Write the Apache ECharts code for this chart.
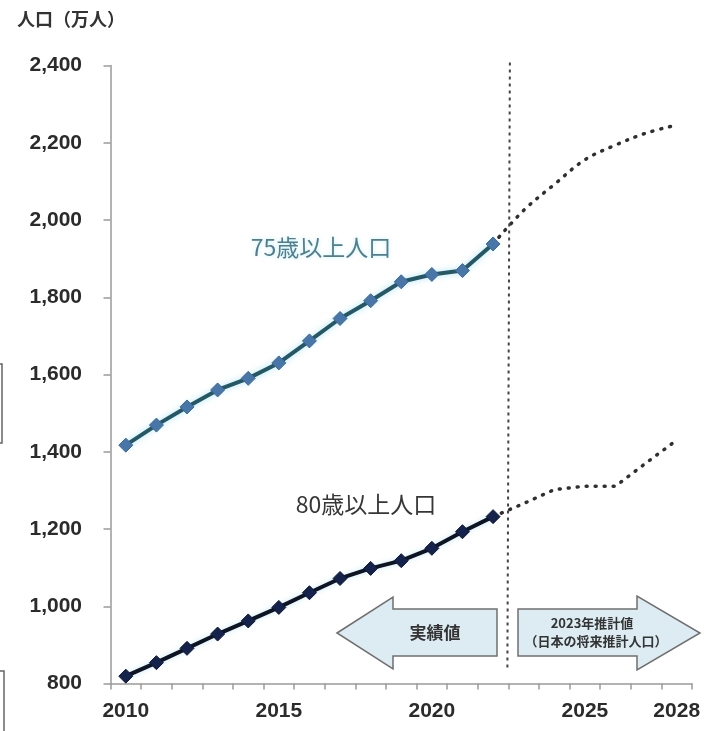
<!DOCTYPE html>
<html>
<head>
<meta charset="utf-8">
<script src="https://cdn.jsdelivr.net/npm/echarts@6/dist/echarts.min.js"></script>
<style>
  html, body { margin: 0; padding: 0; background: #fff; }
  #chart { width: 708px; height: 731px; }
</style>
</head>
<body>
<div id="chart"></div>
<script>
// Years on the horizontal axis (actuals 2010-2022, projection 2023-2028)
const years = ['2010','2011','2012','2013','2014','2015','2016','2017','2018','2019',
               '2020','2021','2022','2023','2024','2025','2026','2027','2028'];
// Years that carry a tick label
const labeledYears = ['2010','2015','2020','2025','2028'];
// Value axis ticks (万人)
const yTicks = [800, 1000, 1200, 1400, 1600, 1800, 2000, 2200, 2400];

// Population aged 75+ (万人): actual values 2010-2022
const pop75Actual = [1417, 1469, 1516, 1560, 1590, 1630, 1687, 1745, 1791, 1840, 1859, 1869, 1938];
// Population aged 75+ (万人): projection 2023-2028
const pop75Projected = [2025, 2092, 2156, 2194, 2225, 2246];

// Population aged 80+ (万人): actual values 2010-2022
const pop80Actual = [819, 854, 891, 928, 962, 997, 1035, 1072, 1098, 1118, 1150, 1193, 1232];
// Population aged 80+ (万人): projection 2023-2028
const pop80Projected = [1266, 1302, 1311, 1311, 1371, 1430];

const nActual = pop75Actual.length;

// Pad the actual series with empty slots, and start the projected ones at the last actual point
function padActual(arr) {
  return years.map((_, i) => (i < arr.length ? arr[i] : null));
}
function padProjected(actual, proj) {
  return years.map((_, i) => {
    if (i < actual.length - 1) return null;
    if (i === actual.length - 1) return actual[i];
    return proj[i - actual.length];
  });
}

const chart = echarts.init(document.getElementById('chart'), null, { renderer: 'canvas' });

const numFont = 'Liberation Sans, Arial, sans-serif';
const cjkFont = '"Noto Sans CJK JP", "Noto Sans", sans-serif';
const dotted = { type: [1, 8], cap: 'round', width: 3.5, color: '#2f2f2f' };

chart.setOption({
  animation: false,
  backgroundColor: '#ffffff',
  grid: { left: 110.5, right: 16, top: 65.5, bottom: 47.5, containLabel: false },
  xAxis: {
    type: 'category',
    data: years,
    boundaryGap: true,
    axisLine: { show: true, lineStyle: { color: '#9a9a9a', width: 1.5 } },
    axisTick: { show: true, interval: 0, length: 6, lineStyle: { color: '#9a9a9a', width: 1.5 } },
    axisLabel: {
      interval: 0,
      margin: 17,
      fontFamily: numFont,
      fontSize: 21,
      fontWeight: 'bold',
      color: '#2b2b2b',
      formatter: v => (labeledYears.includes(v) ? v : '')
    },
    splitLine: { show: false }
  },
  yAxis: {
    type: 'value',
    min: yTicks[0],
    max: yTicks[yTicks.length - 1],
    interval: yTicks[1] - yTicks[0],
    axisLine: { show: true, lineStyle: { color: '#9a9a9a', width: 1.5 } },
    axisTick: { show: true, length: 7, lineStyle: { color: '#9a9a9a', width: 1.5 } },
    axisLabel: {
      margin: 28.5,
      fontFamily: numFont,
      fontSize: 21,
      fontWeight: 'bold',
      color: '#2b2b2b',
      formatter: v => v.toLocaleString('en-US')
    },
    splitLine: { show: false }
  },
  series: [
    {
      name: '75歳以上人口（推計）',
      type: 'line',
      data: padProjected(pop75Actual, pop75Projected),
      smooth: 0.35,
      showSymbol: false,
      lineStyle: dotted,
      z: 2
    },
    {
      name: '80歳以上人口（推計）',
      type: 'line',
      data: padProjected(pop80Actual, pop80Projected),
      smooth: false,
      showSymbol: false,
      lineStyle: dotted,
      z: 2
    },
    {
      name: '75歳以上人口',
      type: 'line',
      data: padActual(pop75Actual),
      symbol: 'diamond',
      symbolSize: 14,
      lineStyle: {
        color: '#245867', width: 4,
        shadowColor: 'rgba(140, 215, 230, 0.7)', shadowBlur: 6
      },
      itemStyle: { color: '#4976a8', borderColor: '#3d6a98', borderWidth: 1 },
      z: 4
    },
    {
      name: '80歳以上人口',
      type: 'line',
      data: padActual(pop80Actual),
      symbol: 'diamond',
      symbolSize: 14,
      lineStyle: {
        color: '#0e1424', width: 4,
        shadowColor: 'rgba(140, 215, 230, 0.5)', shadowBlur: 5
      },
      itemStyle: { color: '#14224c', borderColor: '#0e1838', borderWidth: 1 },
      z: 4
    }
  ]
});

// Divider between actual and projected years, placed half-way between 2022 and 2023
const xLast = chart.convertToPixel({ xAxisIndex: 0 }, years[nActual - 1]);
const xNext = chart.convertToPixel({ xAxisIndex: 0 }, years[nActual]);
const xDiv = (xLast + xNext) / 2;
const yTop = chart.convertToPixel({ yAxisIndex: 0 }, yTicks[yTicks.length - 1]);
const yBottom = chart.convertToPixel({ yAxisIndex: 0 }, yTicks[0]);

const arrowFill = '#dcecf2';
const arrowStroke = '#6f6f6f';

chart.setOption({
  graphic: [
    // axis title
    {
      type: 'text', left: 17, top: 10,
      style: { text: '人口（万人）', font: 'bold 18px ' + cjkFont, fill: '#333' }
    },
    // series names
    {
      type: 'text', x: 321, y: 247,
      style: {
        text: '75歳以上人口', font: '23px ' + cjkFont, fill: '#4f7f8e',
        align: 'center', verticalAlign: 'middle',
        textShadowColor: 'rgba(190, 235, 240, 0.9)', textShadowBlur: 4
      }
    },
    {
      type: 'text', x: 366, y: 504,
      style: {
        text: '80歳以上人口', font: '23px ' + cjkFont, fill: '#363636',
        align: 'center', verticalAlign: 'middle'
      }
    },
    // actual / projected divider
    {
      type: 'line', z: 3,
      shape: { x1: xDiv + 1.5, y1: yTop - 3, x2: xDiv - 1, y2: yBottom - 12 },
      style: { stroke: '#444', lineWidth: 2, lineDash: [3, 4] }
    },
    // left arrow: actual values
    {
      type: 'polygon', z: 1,
      shape: { points: [[337, 633], [393, 597], [393, 609], [497, 609], [497, 656], [393, 656], [393, 669]] },
      style: { fill: arrowFill, stroke: arrowStroke, lineWidth: 1.5 }
    },
    {
      type: 'text', x: 435, y: 633, z: 2,
      style: {
        text: '実績値', font: 'bold 17px ' + cjkFont, fill: '#333',
        align: 'center', verticalAlign: 'middle'
      }
    },
    // right arrow: projection
    {
      type: 'polygon', z: 1,
      shape: { points: [[518, 609], [637, 609], [637, 596], [700, 633], [637, 670], [637, 656], [518, 656]] },
      style: { fill: arrowFill, stroke: arrowStroke, lineWidth: 1.5 }
    },
    {
      type: 'text', x: 592, y: 623, z: 2,
      style: {
        text: '2023年推計値', font: 'bold 13px ' + cjkFont, fill: '#333',
        align: 'center', verticalAlign: 'middle'
      }
    },
    {
      type: 'text', x: 596, y: 641, z: 2,
      style: {
        text: '（日本の将来推計人口）', font: 'bold 13px ' + cjkFont, fill: '#333',
        align: 'center', verticalAlign: 'middle'
      }
    },
    // frame edges along the left border
    {
      type: 'rect', z: 1,
      shape: { x: -10, y: 364, width: 12, height: 79 },
      style: { fill: 'none', stroke: '#666', lineWidth: 1.5 }
    },
    {
      type: 'rect', z: 1,
      shape: { x: -10, y: 671, width: 14, height: 80 },
      style: { fill: 'none', stroke: '#666', lineWidth: 1.5 }
    }
  ]
});
</script>
</body>
</html>
